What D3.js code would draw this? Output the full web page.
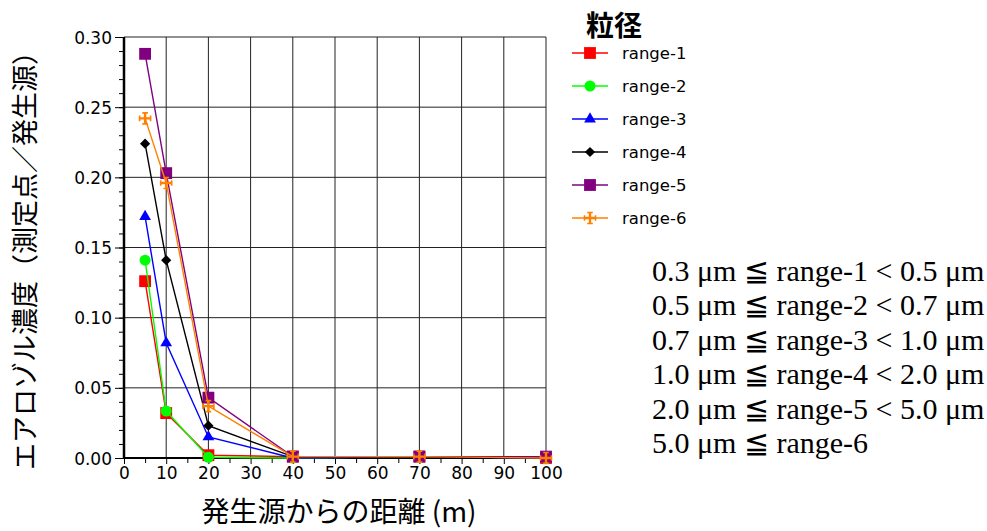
<!DOCTYPE html>
<html>
<head>
<meta charset="utf-8">
<script src="https://cdn.jsdelivr.net/npm/d3@7"></script>
<style>
  body { margin: 0; background: #fff; }
</style>
</head>
<body>
<div id="chart"></div>
<script>
// Data
const distances = [5, 10, 20, 40, 70, 100];
const seriesNames = ['range-1', 'range-2', 'range-3', 'range-4', 'range-5', 'range-6'];
const range1 = [0.126, 0.032, 0.002, 0.001, 0.001, 0.000];
const range2 = [0.141, 0.0335, 0.0005, 0.000, 0.001, 0.000];
const range3 = [0.172, 0.082, 0.015, 0.000, 0.001, 0.000];
const range4 = [0.224, 0.141, 0.023, 0.001, 0.001, 0.000];
const range5 = [0.288, 0.203, 0.043, 0.001, 0.001, 0.001];
const range6 = [0.242, 0.196, 0.037, 0.001, 0.001, 0.000];
const xTickValues = [0, 10, 20, 30, 40, 50, 60, 70, 80, 90, 100];
const yTickValues = [0, 0.05, 0.10, 0.15, 0.20, 0.25, 0.30];
const legendTitle = '粒径';
const xAxisTitle = '発生源からの距離 (m)';
const yAxisTitle = 'エアロゾル濃度（測定点／発生源）';
const rangeNotes = [
  '0.3 μm ≦ range-1 < 0.5 μm',
  '0.5 μm ≦ range-2 < 0.7 μm',
  '0.7 μm ≦ range-3 < 1.0 μm',
  '1.0 μm ≦ range-4 < 2.0 μm',
  '2.0 μm ≦ range-5 < 5.0 μm',
  '5.0 μm ≦ range-6'
];

const allValues = [range1, range2, range3, range4, range5, range6];
const colors = ['#ff0000', '#00ff00', '#0000ff', '#000000', '#800080', '#ff8000'];
const markers = ['square', 'circle', 'triangle', 'diamond', 'square', 'cross'];

const width = 987, height = 531;
const tickFont = 'font-family: "DejaVu Sans", sans-serif; font-size: 17px;';
const jpFont = '"Noto Sans CJK JP", "Noto Sans", sans-serif';

const svg = d3.select('#chart')
  .append('svg')
    .attr('width', width)
    .attr('height', height);

const x = d3.scaleLinear().domain([0, 100]).range([124, 546]);
const y = d3.scaleLinear().domain([0, 0.30]).range([458, 37]);

// grid
svg.append('g')
  .selectAll('line')
  .data(xTickValues.slice(1))
  .enter().append('line')
    .attr('x1', d => x(d)).attr('x2', d => x(d))
    .attr('y1', y(0)).attr('y2', y(0.30))
    .attr('stroke', '#222').attr('stroke-width', 1);
svg.append('g')
  .selectAll('line')
  .data(yTickValues.slice(1))
  .enter().append('line')
    .attr('x1', x(0)).attr('x2', x(100))
    .attr('y1', d => y(d)).attr('y2', d => y(d))
    .attr('stroke', '#222').attr('stroke-width', 1);

// minor ticks
svg.append('g')
  .attr('transform', 'translate(' + x(0) + ',0)')
  .call(d3.axisLeft(y).tickValues(d3.range(0, 0.301, 0.01)).tickSize(5).tickFormat(''))
  .call(g => g.select('.domain').remove());
svg.append('g')
  .attr('transform', 'translate(0,' + y(0) + ')')
  .call(d3.axisBottom(x).tickValues(d3.range(5, 100, 10)).tickSize(5).tickFormat(''))
  .call(g => g.select('.domain').remove());

// axes
svg.append('g')
  .attr('transform', 'translate(' + x(0) + ',0)')
  .call(d3.axisLeft(y).tickValues(yTickValues).tickSize(9).tickPadding(3).tickFormat(d3.format('.2f')))
  .attr('style', tickFont)
  .call(g => g.select('.domain').attr('stroke-width', 2.5).attr('d', 'M0,' + y(0.30) + 'V' + y(0)))
  .call(g => g.selectAll('text').attr('fill', '#000').attr('dy', '0.36em'));
svg.append('g')
  .attr('transform', 'translate(0,' + y(0) + ')')
  .call(d3.axisBottom(x).tickValues(xTickValues).tickSize(6).tickPadding(3))
  .attr('style', tickFont)
  .call(g => g.select('.domain').attr('stroke-width', 2).attr('d', 'M' + x(0) + ',0H' + x(100)))
  .call(g => g.selectAll('text').attr('fill', '#000'));

// marker shapes
function markerPath(kind) {
  if (kind === 'square') return d3.symbol(d3.symbolSquare, 140)();
  if (kind === 'circle') return d3.symbol(d3.symbolCircle, 95)();
  if (kind === 'triangle') return d3.symbol(d3.symbolTriangle, 60)();
  if (kind === 'diamond') return d3.symbol(d3.symbolSquare, 52)();
  return null;
}
function drawMarker(g, kind, color, cx, cy) {
  if (kind === 'cross') {
    const m = g.append('g').attr('transform', 'translate(' + cx + ',' + cy + ')');
    m.append('path').attr('d', 'M-5.5,0H5.5M0,-5.5V5.5')
      .attr('stroke', color).attr('stroke-width', 2.4).attr('fill', 'none');
    m.append('path').attr('d', 'M-5.5,-2.8V2.8M5.5,-2.8V2.8M-2.8,-5.5H2.8M-2.8,5.5H2.8')
      .attr('stroke', color).attr('stroke-width', 1.6).attr('fill', 'none');
    return;
  }
  g.append('path')
    .attr('d', markerPath(kind))
    .attr('transform', 'translate(' + cx + ',' + cy + ')' + (kind === 'diamond' ? ' rotate(45)' : ''))
    .attr('fill', color);
}

// series
const line = d3.line().x(d => x(d[0])).y(d => y(d[1]));
allValues.forEach(function(vals, i) {
  const pts = distances.map((d, j) => [d, vals[j]]);
  const g = svg.append('g');
  g.append('path')
    .attr('d', line(pts))
    .attr('fill', 'none')
    .attr('stroke', colors[i])
    .attr('stroke-width', 1.4);
  pts.forEach(p => drawMarker(g, markers[i], colors[i], x(p[0]), y(p[1])));
});

// axis titles
svg.append('text')
  .attr('x', 339).attr('y', 522)
  .attr('text-anchor', 'middle')
  .style('font-family', jpFont).style('font-size', '28px')
  .text(xAxisTitle);
svg.append('text')
  .attr('transform', 'translate(35,254) rotate(-90)')
  .attr('text-anchor', 'middle')
  .style('font-family', jpFont).style('font-size', '27px')
  .text(yAxisTitle);

// legend
svg.append('text')
  .attr('x', 586).attr('y', 36)
  .style('font-family', jpFont).style('font-size', '28px').style('font-weight', 'bold')
  .text(legendTitle);
const legendY = d3.scalePoint().domain(seriesNames).range([53, 218]);
seriesNames.forEach(function(name, i) {
  const g = svg.append('g');
  const ly = legendY(name);
  g.append('line')
    .attr('x1', 572).attr('x2', 608).attr('y1', ly).attr('y2', ly)
    .attr('stroke', colors[i]).attr('stroke-width', 1.4);
  drawMarker(g, markers[i], colors[i], 590, ly);
  g.append('text')
    .attr('x', 622).attr('y', ly).attr('dy', '0.36em')
    .attr('style', 'font-family: "DejaVu Sans", sans-serif; font-size: 16.5px;')
    .text(name);
});

// size range notes
svg.append('g')
  .selectAll('text')
  .data(rangeNotes)
  .enter().append('text')
    .attr('x', 652)
    .attr('y', (d, i) => 281 + i * 34.4)
    .style('font-family', '"Liberation Serif", "Times New Roman", serif')
    .style('font-size', '30px')
    .text(d => d);
</script>
</body>
</html>
